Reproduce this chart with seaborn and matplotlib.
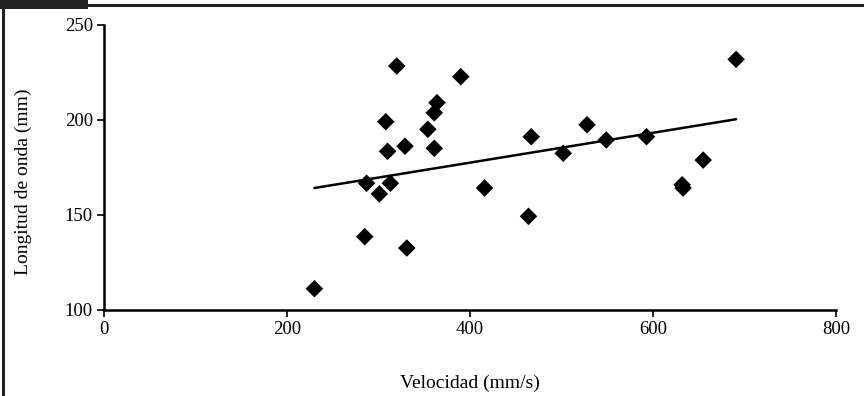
import matplotlib
matplotlib.use("Agg")
import matplotlib.pyplot as plt
import seaborn as sns
import pandas as pd
from matplotlib.patches import Rectangle
from matplotlib.lines import Line2D

velocidad = [320, 390, 364, 361, 308, 354, 310, 329, 361, 467, 287, 313, 301, 416,
             464, 285, 331, 230, 691, 528, 549, 593, 502, 655, 632, 633]
longitud = [228.4, 222.8, 209.1, 203.8, 199.1, 195.1, 183.5, 186.2, 185.1, 191.2,
            166.7, 166.7, 161.1, 164.2, 149.3, 138.6, 132.6, 111.2, 231.9, 197.5,
            189.5, 191.2, 182.5, 178.9, 165.9, 164.2]
# trend line as drawn in the source
trend_x = [230, 691]
trend_y = [164.2, 200.4]
x_ticks = [0, 200, 400, 600, 800]
y_ticks = [100, 150, 200, 250]

df = pd.DataFrame({"v": velocidad, "l": longitud})
tr = pd.DataFrame({"v": trend_x, "l": trend_y})

sns.set_theme(style="white")
plt.rcParams["font.family"] = ["Liberation Serif", "DejaVu Serif"]

fig = plt.figure(figsize=(8.64, 3.96), dpi=100)
ax = fig.add_axes([0.1204, 0.2172, 0.847, 0.7197])

sns.lineplot(data=tr, x="v", y="l", color="black", lw=1.8, ax=ax)
sns.scatterplot(data=df, x="v", y="l", marker="D", s=80, color="black",
                edgecolor="none", ax=ax, zorder=3)

ax.set_xlim(0, 800)
ax.set_ylim(100, 250)
ax.set_xticks(x_ticks)
ax.set_yticks(y_ticks)
ax.tick_params(axis="both", direction="out", length=5, width=1.2, color="black",
               labelsize=13.5, labelcolor="black", bottom=True, left=True, pad=3)
for s in ["top", "right"]:
    ax.spines[s].set_visible(False)
for s in ["left", "bottom"]:
    ax.spines[s].set_color("black")
    ax.spines[s].set_linewidth(1.8)
ax.set_xlabel("Velocidad (mm/s)", fontsize=14, color="black", labelpad=26)
ax.set_ylabel("Longitud de onda (mm)", fontsize=14, color="black")
ax.yaxis.set_label_coords(-0.098, 0.45)

# page frame (cropped figure header)
fig.add_artist(Rectangle((0, 1 - 9 / 396), 88 / 864, 9 / 396, transform=fig.transFigure,
                         facecolor="#222222", edgecolor="none"))
fig.add_artist(Line2D([0, 1], [1 - 5 / 396, 1 - 5 / 396], transform=fig.transFigure,
                      color="#222222", lw=2.2))
fig.add_artist(Line2D([3 / 864, 3 / 864], [0, 1 - 5 / 396], transform=fig.transFigure,
                      color="#222222", lw=2.2))

fig.savefig("out.png", dpi=100, facecolor="white")
